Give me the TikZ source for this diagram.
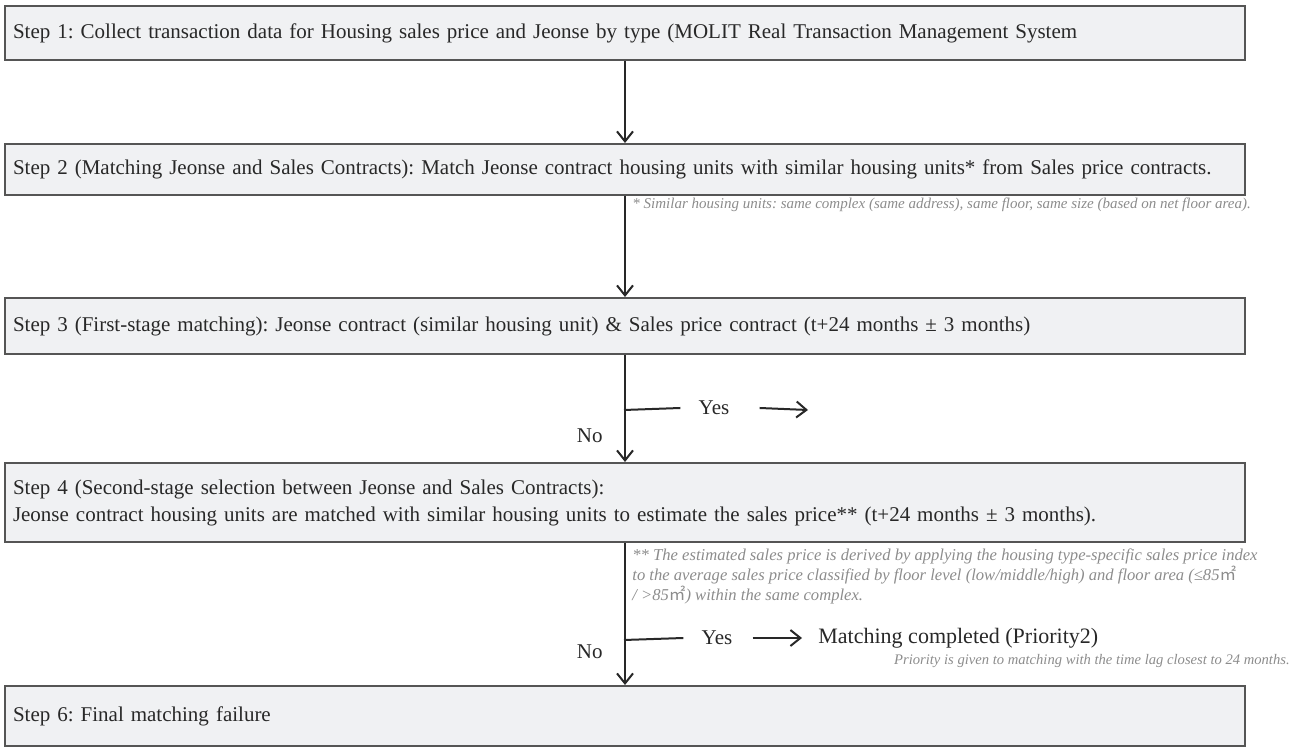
\documentclass[tikz,border=0pt]{standalone}
\usepackage{fontspec}
\setmainfont{Liberation Serif}
\newfontfamily\cjk{Noto Sans CJK KR}
\usetikzlibrary{arrows.meta}
\definecolor{boxfill}{RGB}{240,241,243}
\definecolor{boxline}{RGB}{85,85,85}
\definecolor{steptext}{RGB}{40,40,40}
\definecolor{notegray}{RGB}{140,140,140}
\frenchspacing
\tikzset{
  stepbox/.style={draw=boxline, line width=1pt, fill=boxfill, text=steptext,
    anchor=north west, minimum width=620pt, text width=612pt, inner xsep=4pt,
    align=left, font=\fontsize{10.5}{13.5}\selectfont},
  flow/.style={-{Straight Barb[length=5pt,width=8pt]}, line width=1pt, draw=steptext},
  branch/.style={line width=1pt, draw=steptext},
  answer/.style={text=steptext, font=\fontsize{10.5}{12}\selectfont, inner sep=0pt},
  note/.style={text=notegray, font=\fontsize{7.5}{8.5}\selectfont\itshape, inner sep=0pt, align=left}
}
\begin{document}
\begin{tikzpicture}[x=0.5pt,y=-0.5pt]
\useasboundingbox (0,0) rectangle (1294,747);

\node[stepbox, minimum height=27pt] (s1) at (4,5)
  {Step 1: Collect transaction data for Housing sales price and Jeonse by type (MOLIT Real Transaction Management System};
\node[stepbox, minimum height=25.5pt] (s2) at (4,143)
  {Step 2 (Matching Jeonse and Sales Contracts): Match Jeonse contract housing units with similar housing units* from Sales price contracts.};
\node[stepbox, minimum height=28pt] (s3) at (4,297)
  {Step 3 (First-stage matching): Jeonse contract (similar housing unit) \& Sales price contract (t+24 months ± 3 months)};
\node[stepbox, minimum height=39.5pt] (s4) at (4,462)
  {Step 4 (Second-stage selection between Jeonse and Sales Contracts):\\
   Jeonse contract housing units are matched with similar housing units to estimate the sales price** (t+24 months ± 3 months).};
\node[stepbox, minimum height=30pt] (s6) at (4,685)
  {Step 6: Final matching failure};

\draw[flow] (s1) -- (s2);
\draw[flow] (s2) -- (s3);
\draw[flow] (s3) -- (s4);
\draw[flow] (s4) -- (s6);

\node[note, anchor=west] (n1) at (632,205)
  {* Similar housing units: same complex (same address), same floor, same size (based on net floor area).};
\node[note, anchor=north west, font=\fontsize{8.3}{8.7}\selectfont\itshape] (n2) at (632,548)
  {** The estimated sales price is derived by applying the housing type-specific sales price index\\
   to the average sales price classified by floor level (low/middle/high) and floor area (≤85{\cjk ㎡}\\
   / >85{\cjk ㎡}) within the same complex.};

% first-stage branch
\coordinate (b1) at (624,410);
\node[answer] (yes1) at (714,408) {Yes};
\coordinate (e1) at (808,410);
\draw[branch] (b1) -- ([xshift=-9pt]yes1.west);
\draw[flow] ([xshift=15pt]yes1.east) -- (e1);
\node[answer, anchor=east] (no1) at (603,436) {No};

% second-stage branch
\coordinate (b2) at (624,640);
\node[answer] (yes2) at (717,638) {Yes};
\node[answer, anchor=west, font=\fontsize{11}{13}\selectfont] (done) at (818,638) {Matching completed (Priority2)};
\draw[branch] (b2) -- ([xshift=-9pt]yes2.west);
\draw[flow] ([xshift=10pt]yes2.east) -- ([xshift=-8pt]done.west);
\node[answer, anchor=east] (no2) at (603,652) {No};
\node[note, anchor=east, font=\fontsize{7.3}{8}\selectfont\itshape] (pri) at (1290,661)
  {Priority is given to matching with the time lag closest to 24 months.};
\end{tikzpicture}
\end{document}
